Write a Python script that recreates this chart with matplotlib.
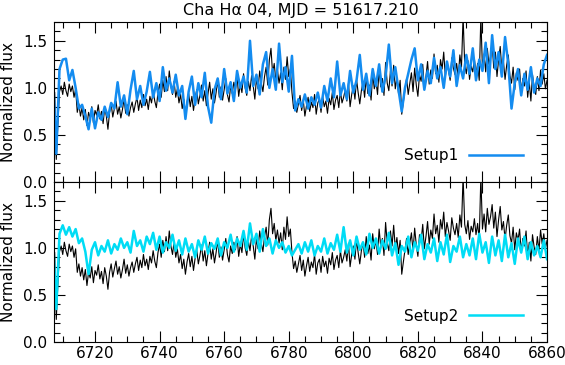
import numpy as np
import matplotlib
matplotlib.use("Agg")
import matplotlib.pyplot as plt
from matplotlib.ticker import MultipleLocator, FormatStrFormatter

# observed spectrum, 0.5 A sampling starting at 6707.5
OBS_START = 6707.5
OBS_STEP = 0.5
obs_flux = [
    0.95, 0.24, 0.62, 0.96, 1.02, 0.93, 1.06, 0.97, 0.91, 1.04,
    0.96, 1.02, 0.90, 0.99, 0.74, 0.83, 0.70, 0.79, 0.66, 0.77,
    0.60, 0.74, 0.68, 0.80, 0.63, 0.76, 0.71, 0.82, 0.67, 0.75,
    0.62, 0.79, 0.70, 0.56, 0.74, 0.83, 0.69, 0.78, 0.86, 0.72,
    0.80, 0.68, 0.77, 0.88, 0.73, 0.82, 0.70, 0.79, 0.85, 0.74,
    0.83, 0.90, 0.76, 0.87, 0.79, 0.93, 0.81, 0.88, 0.77, 0.91,
    0.84, 0.97, 0.86, 0.79, 0.95, 1.04, 0.90, 1.08, 0.96, 1.12,
    0.97, 1.18, 1.02, 0.93, 1.07, 0.90, 0.99, 0.84, 0.93, 0.78,
    0.88, 0.72, 0.85, 0.94, 0.80, 0.91, 0.76, 0.89, 0.98, 0.83,
    0.92, 1.03, 0.86, 0.97, 0.81, 0.94, 1.06, 0.88, 0.99, 0.84,
    0.95, 1.08, 0.90, 1.01, 0.87, 0.98, 1.10, 0.93, 0.85, 1.02,
    0.94, 1.06, 0.98, 1.12, 0.91, 1.04, 0.95, 1.15, 1.00, 0.92,
    1.07, 0.97, 1.13, 1.02, 0.88, 1.10, 0.99, 1.18, 1.05, 0.96,
    1.12, 1.22, 1.03, 1.30, 1.42, 1.15, 1.26, 1.08, 1.19, 1.05,
    1.16, 0.98, 1.22, 1.09, 1.33, 1.12, 1.20, 0.95, 0.78, 0.86,
    0.74, 0.83, 0.92, 0.76, 0.87, 0.70, 0.81, 0.90, 0.75, 0.85,
    0.79, 0.93, 0.72, 0.84, 0.88, 0.74, 0.91, 0.80, 0.86, 0.73,
    0.89, 0.82, 0.95, 0.77, 0.87, 0.92, 0.79, 0.97, 0.84, 0.90,
    0.98, 0.86, 1.05, 0.80, 0.93, 1.02, 0.88, 1.09, 0.95, 0.83,
    0.97, 1.06, 0.90, 1.12, 0.94, 1.03, 0.87, 1.15, 0.99, 1.08,
    0.93, 1.20, 1.01, 1.10, 0.92, 1.27, 1.05, 0.97, 1.18, 1.02,
    1.24, 0.99, 1.11, 0.94, 1.08, 0.72, 0.85, 0.98, 1.10, 0.93,
    1.05, 1.16, 0.96, 1.21, 1.03, 0.91, 1.14, 1.07, 1.25, 0.99,
    1.12, 1.28, 1.04, 1.19, 1.10, 1.36, 1.15, 1.24, 1.06, 1.30,
    1.20, 1.38, 1.12, 1.27, 1.18, 1.08, 1.32, 1.21, 1.14, 1.26,
    1.11, 1.35, 1.22, 1.76, 1.25, 1.15, 1.29, 1.09, 1.23, 1.17,
    1.31, 1.14, 1.26, 1.08, 1.76, 1.20, 1.36, 1.17, 1.42, 1.25,
    1.33, 1.46, 1.21, 1.38, 1.12, 1.30, 1.44, 1.19, 1.28, 1.09,
    1.24, 1.35, 1.13, 1.05, 1.22, 0.98, 1.16, 1.08, 1.20, 0.95,
    1.10, 1.02, 1.18, 0.90, 1.06, 0.86, 1.14, 1.01, 0.93, 1.12,
    0.97, 1.19, 1.04, 1.15, 0.99, 1.08,
]

# templates, 1 A sampling starting at 6707.0
TPL_START = 6707.0
TPL_STEP = 1.0
setup1_flux = [
    1.15, 0.30, 1.20, 1.30, 1.31, 1.08, 1.19, 1.00, 0.78, 0.82,
    0.70, 0.56, 0.78, 0.57, 0.74, 0.66, 0.80, 0.69, 0.84, 0.78,
    1.06, 0.80, 0.92, 0.72, 0.98, 1.18, 0.88, 1.02, 0.82, 0.96,
    1.17, 0.90, 1.05, 0.86, 1.22, 0.97, 1.10, 0.95, 1.14, 0.92,
    1.02, 0.67, 0.96, 1.12, 0.82, 1.05, 0.90, 1.16, 0.80, 0.63,
    0.98, 1.10, 0.88, 1.20, 0.94, 1.06, 0.86, 1.18, 1.00, 1.12,
    0.95, 1.50, 1.02, 1.14, 0.93, 1.25, 1.38, 1.00, 1.20, 0.98,
    1.47, 1.06, 1.22, 0.96, 1.34, 0.76, 0.88, 0.80, 0.93, 0.78,
    0.90, 0.82, 0.95, 0.79, 1.02, 0.86, 1.10, 0.90, 1.28, 0.92,
    1.05, 0.88, 1.18, 0.95, 1.08, 1.35, 0.98, 1.15, 0.92, 1.20,
    1.02, 1.25, 0.96, 1.12, 1.46, 1.05, 1.22, 0.98, 0.75, 1.00,
    1.15, 1.30, 1.42, 1.08, 1.25, 0.98, 1.18, 1.05, 1.32, 1.10,
    1.22, 1.00, 1.28, 1.12, 1.40, 1.02, 1.24, 1.10, 1.35, 1.15,
    1.42, 1.08, 1.30, 1.18, 1.48, 1.05, 1.56, 1.20, 1.38, 1.12,
    1.54, 1.25, 0.78, 1.05, 1.20, 0.92, 1.15, 0.98, 1.22, 0.95,
    1.10, 1.02, 1.25, 1.35,
]
setup2_flux = [
    1.12, 0.35, 1.15, 1.24, 1.14, 1.22, 1.12, 1.20, 1.05, 1.10,
    0.96, 0.72, 0.98, 1.06, 0.92, 1.02, 0.96, 1.08, 0.94, 1.04,
    0.98, 1.10, 1.00, 1.06, 0.95, 1.18, 1.02, 1.08, 0.96, 1.12,
    1.04, 1.16, 0.98, 1.12, 0.95, 1.06, 1.00, 1.14, 0.97, 1.08,
    0.93, 1.10, 0.96, 1.04, 0.90, 1.08, 0.98, 1.12, 0.94, 1.05,
    0.99, 1.10, 0.92, 1.06, 1.00, 1.14, 0.96, 1.10, 1.02, 1.18,
    0.98, 1.26, 1.04, 1.15, 0.96, 1.20, 1.02, 1.10, 0.94, 1.08,
    1.00, 1.06, 0.95, 1.02, 0.92, 0.98, 1.04, 0.94, 1.06, 0.96,
    1.08, 0.92, 1.02, 0.96, 1.10, 0.94, 1.05, 0.98, 1.14, 0.96,
    1.22, 0.95, 1.08, 0.92, 1.12, 0.98, 1.06, 0.93, 1.15, 1.00,
    1.10, 0.94, 1.08, 0.99, 1.16, 0.92, 1.05, 0.82, 1.02, 0.96,
    1.12, 0.90, 1.06, 0.97, 1.14, 0.88, 1.04, 0.95, 1.10, 0.86,
    1.06, 0.93, 1.14, 0.85, 1.02, 0.96, 1.12, 0.90, 1.04, 0.92,
    1.10, 0.88, 1.15, 0.95, 1.06, 0.84, 1.12, 0.92, 1.08, 0.86,
    1.14, 0.90, 1.05, 0.83, 1.10, 0.95, 1.12, 0.88, 1.06, 0.92,
    1.02, 0.90, 1.08, 0.88,
]

TITLE = "Cha H\u03b1 04, MJD = 51617.210"
X_TICKS = [6720, 6740, 6760, 6780, 6800, 6820, 6840, 6860]

BLUE = "#148cf0"
CYAN = "#00dcf5"
FS = 11


def style_axis(ax, show_xlabels):
    ax.set_xlim(6707.3, 6860)
    ax.set_ylim(0, 1.7)
    ax.set_xticks(X_TICKS)
    ax.xaxis.set_minor_locator(MultipleLocator(5))
    ax.yaxis.set_major_locator(MultipleLocator(0.5))
    ax.yaxis.set_minor_locator(MultipleLocator(0.1))
    ax.yaxis.set_major_formatter(FormatStrFormatter("%.1f"))
    ax.tick_params(which="both", direction="in", top=True, right=True,
                   width=0.8, labelsize=FS, pad=5)
    ax.tick_params(axis="x", pad=3)
    ax.tick_params(which="major", length=8)
    ax.tick_params(which="minor", length=4)
    if not show_xlabels:
        ax.tick_params(axis="x", labelbottom=False)
    for sp in ax.spines.values():
        sp.set_linewidth(0.8)
    ax.set_ylabel("Normalized flux", fontsize=FS, labelpad=5)


def main():
    plt.rcParams["font.family"] = ["DejaVu Sans"]

    obs_wave = OBS_START + OBS_STEP * np.arange(len(obs_flux))
    tpl_wave = TPL_START + TPL_STEP * np.arange(len(setup1_flux))

    fig = plt.figure(figsize=(5.65, 3.65), dpi=100)
    ax1 = fig.add_axes([0.0956, 0.5014, 0.8726, 0.4384])
    ax2 = fig.add_axes([0.0956, 0.063, 0.8726, 0.4384])

    for ax, flux, color, name in [(ax1, setup1_flux, BLUE, "Setup1"),
                                  (ax2, setup2_flux, CYAN, "Setup2")]:
        ax.plot(obs_wave, obs_flux, color="black", lw=0.8)
        ax.plot(tpl_wave, flux, color=color, lw=1.8, label=name)
        ax.legend(loc="center right", bbox_to_anchor=(0.951, 0.1625),
                  frameon=False, markerfirst=False, fontsize=FS,
                  handlelength=3.5, handletextpad=0.7,
                  borderpad=0, borderaxespad=0)

    style_axis(ax1, False)
    style_axis(ax2, True)
    ax1.set_title(TITLE, fontsize=FS + 0.5, pad=5)

    fig.savefig("out.png", dpi=100)
    plt.close(fig)


if __name__ == "__main__":
    main()
